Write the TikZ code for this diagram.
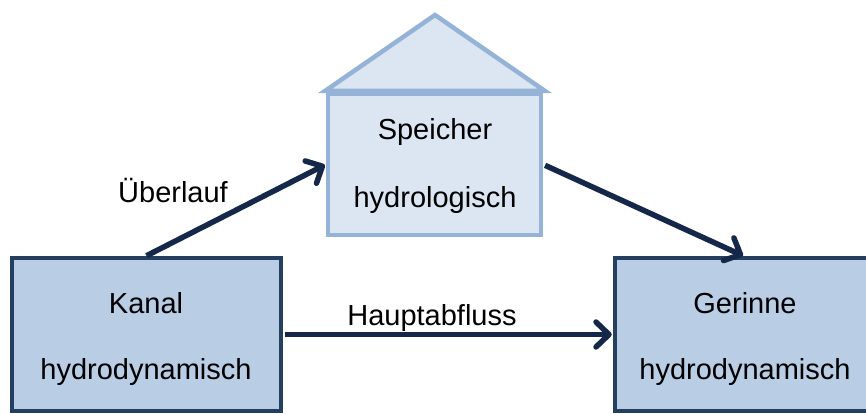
\documentclass[tikz,border=0pt]{standalone}
\usepackage{fontspec}
\setmainfont{Liberation Sans}
\usetikzlibrary{arrows.meta}
\definecolor{boxfill}{HTML}{B9CDE5}
\definecolor{boxline}{HTML}{243F60}
\definecolor{storefill}{HTML}{DCE6F2}
\definecolor{storeline}{HTML}{95B3D7}
\definecolor{flow}{HTML}{15284A}
\begin{document}
\begin{tikzpicture}[x=1pt,y=-1pt,
  module/.style={draw=boxline,fill=boxfill,line width=4.5pt,rectangle,inner sep=0pt},
  store/.style={draw=storeline,fill=storefill,line width=4.5pt,line join=miter},
  txt/.style={font=\fontsize{29}{31}\selectfont,anchor=base,inner sep=0pt},
  flowarrow/.style={draw=flow,line width=5.5pt,
    -{Straight Barb[length=13pt,width=25pt,line cap=round,line join=round]}}]
  \useasboundingbox (0,0) rectangle (866,414);
  \clip (0,0) rectangle (866,414);

  % storage module: house shape with a roof above the box
  \node[store,rectangle,minimum width=213pt,minimum height=141pt,inner sep=0pt]
    (speicher) at (434.5,164.5) {};
  \filldraw[store] (325,91) -- (435,15) -- (545,91) -- cycle;
  \node[txt] (speicher-a) at (435,140) {Speicher};
  \node[txt] (speicher-b) at (435,207) {hydrologisch};

  % hydrodynamic modules
  \node[module,minimum width=269pt,minimum height=153pt] (kanal) at (146.5,334.5) {};
  \node[txt] (kanal-a) at (146,313) {Kanal};
  \node[txt] (kanal-b) at (146,379) {hydrodynamisch};

  \node[module,minimum width=256pt,minimum height=153pt] (gerinne) at (743,334.5) {};
  \node[txt] (gerinne-a) at (745,313) {Gerinne};
  \node[txt] (gerinne-b) at (745,379) {hydrodynamisch};

  % flows
  \draw[flowarrow,shorten >=1pt] (kanal.north) -- (speicher.west);
  \draw[flowarrow,shorten <=2pt] (speicher.east) -- (gerinne.north);
  \draw[flowarrow,shorten <=2pt,shorten >=1pt] (kanal.east) -- (gerinne.west);

  \node[txt] (ueberlauf) at (173,202) {Überlauf};
  \node[txt] (hauptabfluss) at (432,325) {Hauptabfluss};
\end{tikzpicture}
\end{document}
